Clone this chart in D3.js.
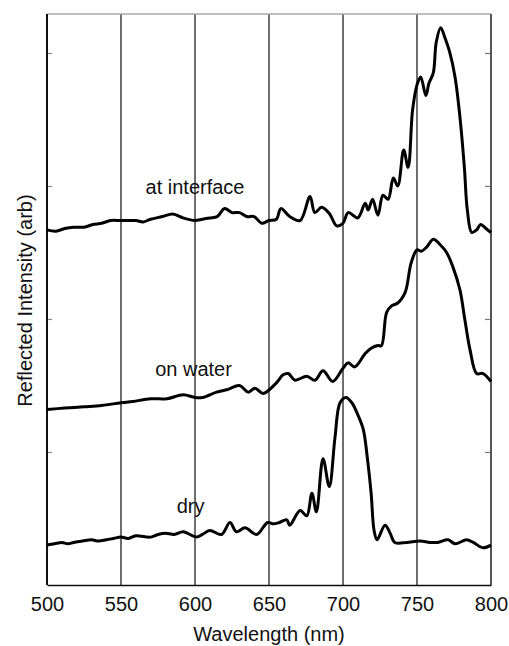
<!DOCTYPE html>
<html>
<head>
<meta charset="utf-8">
<script src="https://cdn.jsdelivr.net/npm/d3@7"></script>
<style>
  body { margin: 0; background: #fff; }
  svg text { font-family: "Liberation Sans", Arial, Helvetica, sans-serif; fill: #111; }
</style>
</head>
<body>
<div id="chart"></div>
<script>
const width = 509, height = 646;

// wavelength ticks (nm)
const xTicks = [500, 550, 600, 650, 700, 750, 800];
const gridTicks = [550, 600, 650, 700, 750];
const yTicks = [1, 2, 3, 4];

// spectra: [wavelength nm, intensity arb]
const atInterface = [
  [500, 2.67], [506, 2.66], [512, 2.68], [518, 2.69], [525, 2.69], [531, 2.71], [537, 2.72],
  [543, 2.74], [550, 2.74], [560, 2.74], [565, 2.73], [570, 2.75],
  [578, 2.77], [585, 2.79], [592, 2.76], [600, 2.74], [605, 2.75], [610, 2.76], [615, 2.77],
  [620, 2.83], [625, 2.80], [630, 2.80], [635, 2.77], [640, 2.77], [645, 2.72], [650, 2.74],
  [655, 2.75], [658, 2.83], [664, 2.77], [671, 2.74], [677.7, 2.92], [681, 2.80],
  [685.6, 2.84], [691, 2.79], [695.7, 2.70], [700, 2.72], [703.5, 2.80], [710, 2.76],
  [715, 2.87], [717, 2.82], [720, 2.90], [723.6, 2.78], [727, 2.93], [730.5, 2.90],
  [734, 3.06], [737, 3.00], [741, 3.27], [744, 3.14], [747, 3.57], [750, 3.76],
  [752.5, 3.82], [756, 3.68], [758, 3.77], [761, 3.85], [763, 4.08], [766, 4.19],
  [769, 4.11], [772, 4.01], [775.7, 3.82], [779, 3.52], [782, 3.14], [784, 2.82],
  [787, 2.65], [790.3, 2.67], [793, 2.71], [796.6, 2.68], [800, 2.65]
];

const onWater = [
  [500, 1.32], [512, 1.33], [525, 1.34], [537, 1.35], [550, 1.37], [558, 1.38], [570, 1.40],
  [581, 1.40], [592, 1.43], [600, 1.41], [605, 1.41], [614.6, 1.45], [622, 1.47],
  [630, 1.50], [636, 1.45], [640.5, 1.48], [646, 1.44], [655, 1.52], [659.5, 1.58],
  [663, 1.59], [667.6, 1.54], [675.5, 1.57], [681, 1.54], [686.5, 1.61], [693, 1.53],
  [700, 1.63], [703.4, 1.67], [708, 1.64], [715, 1.74], [719, 1.78], [723.6, 1.80],
  [726, 1.80], [729.5, 2.05], [733, 2.10], [737, 2.12], [742, 2.20], [746, 2.42],
  [750, 2.52], [753, 2.51], [756.5, 2.54], [761, 2.60], [765.5, 2.56], [770, 2.50],
  [774.3, 2.39], [779, 2.22], [782.4, 1.99], [785.8, 1.77], [790.3, 1.59], [794.6, 1.59],
  [800, 1.53]
];

const dry = [
  [500, 0.30], [505, 0.31], [510, 0.32], [514, 0.31], [518, 0.32], [524, 0.33], [530, 0.34],
  [535, 0.33], [540, 0.34], [545, 0.35], [550, 0.36], [555, 0.35], [560, 0.37],
  [570, 0.36], [575, 0.38], [580, 0.39], [586, 0.38], [592, 0.40], [601, 0.36], [605, 0.38],
  [610, 0.41], [618, 0.38], [623.6, 0.47], [628, 0.40], [633.8, 0.43], [641.7, 0.38],
  [649, 0.47], [653, 0.46], [657, 0.47], [662, 0.49], [664, 0.45], [671, 0.56],
  [675.5, 0.52], [679, 0.69], [682, 0.55], [686.5, 0.95], [690.7, 0.74], [694.6, 1.11],
  [698, 1.37], [702, 1.41], [706, 1.37], [710, 1.28], [713.7, 1.17], [716.4, 0.96],
  [719, 0.69], [721, 0.41], [723, 0.34], [728.4, 0.45], [731.8, 0.39], [735, 0.32],
  [743, 0.32], [752, 0.33], [758.8, 0.32], [764, 0.32], [771, 0.34], [775.7, 0.31],
  [783.6, 0.34], [788, 0.32], [794.6, 0.28], [800, 0.30]
];

const curveLabels = [
  { text: "at interface", nm: 600, v: 2.94 },
  { text: "on water", nm: 599, v: 1.57 },
  { text: "dry", nm: 597, v: 0.54 }
];

let svg = d3.select("#chart")
  .append("svg")
  .attr("width", width)
  .attr("height", height);

let x = d3.scaleLinear().domain([500, 800]).range([47, 491]);
let y = d3.scaleLinear().domain([0, 4.293]).range([585, 14]);

// vertical grid lines
svg.append("g")
  .attr("class", "grid")
  .selectAll("line")
  .data(gridTicks)
  .enter().append("line")
  .attr("x1", (d) => x(d)).attr("x2", (d) => x(d))
  .attr("y1", y.range()[0]).attr("y2", y.range()[1])
  .attr("stroke", "#4a4a4a")
  .attr("stroke-width", 1.6);

// top frame
svg.append("line")
  .attr("x1", x(500)).attr("x2", x(800))
  .attr("y1", y.range()[1]).attr("y2", y.range()[1])
  .attr("stroke", "#aaa")
  .attr("stroke-width", 1.5);

// left / right axes with inward ticks
let left = svg.append("g")
  .attr("transform", "translate(" + x(500) + ",0)")
  .call(d3.axisLeft(y).tickValues(yTicks).tickSize(-5).tickFormat(""));
left.select(".domain").remove();
left.selectAll(".tick line").attr("stroke", "#888").attr("stroke-width", 1.2);
svg.append("line")
  .attr("x1", x(500)).attr("x2", x(500))
  .attr("y1", y.range()[0]).attr("y2", y.range()[1])
  .attr("stroke", "#111").attr("stroke-width", 2);

let right = svg.append("g")
  .attr("transform", "translate(" + x(800) + ",0)")
  .call(d3.axisRight(y).tickValues(yTicks).tickSize(-6).tickFormat(""));
right.select(".domain").remove();
right.selectAll(".tick line").attr("stroke", "#777").attr("stroke-width", 1.2);
svg.append("line")
  .attr("x1", x(800)).attr("x2", x(800))
  .attr("y1", y.range()[0]).attr("y2", y.range()[1])
  .attr("stroke", "#555").attr("stroke-width", 2);

// bottom axis
let bottom = svg.append("g")
  .attr("transform", "translate(0," + y(0) + ")")
  .call(d3.axisBottom(x).tickValues(xTicks).tickSize(0).tickPadding(12));
bottom.select(".domain").attr("stroke", "#111").attr("stroke-width", 1.5);
bottom.selectAll(".tick text").attr("font-size", 20);

// spectra
let line = d3.line()
  .curve(d3.curveCatmullRom.alpha(0.5))
  .x((d) => x(d[0]))
  .y((d) => y(d[1]));

svg.append("g")
  .attr("class", "spectra")
  .selectAll("path")
  .data([atInterface, onWater, dry])
  .enter().append("path")
  .attr("d", line)
  .attr("fill", "none")
  .attr("stroke", "#000")
  .attr("stroke-width", 3)
  .attr("stroke-linejoin", "round");

svg.append("g")
  .selectAll("text")
  .data(curveLabels)
  .enter().append("text")
  .attr("x", (d) => x(d.nm))
  .attr("y", (d) => y(d.v))
  .attr("text-anchor", "middle")
  .attr("font-size", 20)
  .text((d) => d.text);

// axis titles
svg.append("text")
  .attr("x", (x(500) + x(800)) / 2)
  .attr("y", 641)
  .attr("text-anchor", "middle")
  .attr("font-size", 20)
  .text("Wavelength (nm)");

svg.append("text")
  .attr("transform", "translate(32," + ((y.range()[0] + y.range()[1]) / 2 + 1) + ") rotate(-90)")
  .attr("text-anchor", "middle")
  .attr("font-size", 20)
  .text("Reflected Intensity (arb)");
</script>
</body>
</html>
